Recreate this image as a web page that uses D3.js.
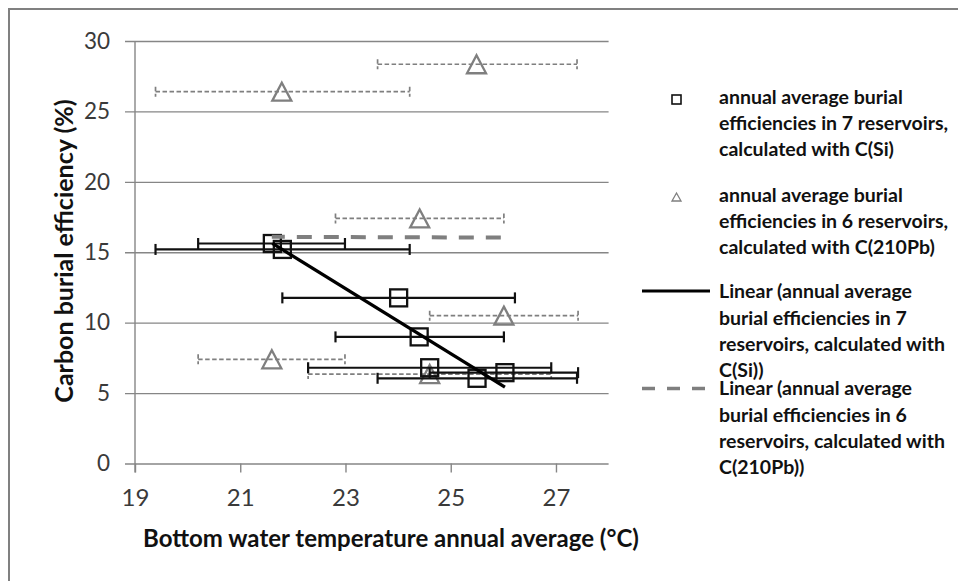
<!DOCTYPE html>
<html>
<head>
<meta charset="utf-8">
<script src="https://cdn.jsdelivr.net/npm/d3@7"></script>
<style>
  body { margin: 0; background: #fff; }
  svg { display: block; }
  text { font-family: Lato, "Open Sans", sans-serif; }
</style>
</head>
<body>
<script>
// C(Si) series, 7 reservoirs
let siTemp = [21.61, 21.80, 24.01, 24.40, 24.60, 25.50, 26.03];
let siEff = [15.62, 15.20, 11.76, 8.99, 6.80, 6.05, 6.45];
let siTempLow = [20.20, 19.39, 21.80, 22.81, 22.29, 23.61, 24.60];
let siTempHigh = [22.99, 24.22, 26.22, 26.01, 26.91, 27.40, 27.42];

// C(210Pb) series, 6 reservoirs
let pbTemp = [21.60, 21.79, 24.41, 24.60, 25.49, 26.01];
let pbEff = [7.40, 26.40, 17.40, 6.35, 28.35, 10.50];
let pbTempLow = [20.20, 19.39, 22.81, 22.29, 23.61, 24.60];
let pbTempHigh = [22.99, 24.22, 26.01, 26.91, 27.40, 27.42];

let xTicks = [19, 21, 23, 25, 27];
let yTicks = [0, 5, 10, 15, 20, 25, 30];

let legendLabels = [
    ['annual average burial', 'efficiencies in 7 reservoirs,', 'calculated with C(Si)'],
    ['annual average burial', 'efficiencies in 6 reservoirs,', 'calculated with C(210Pb)'],
    ['Linear (annual average', 'burial efficiencies in 7', 'reservoirs, calculated with', 'C(Si))'],
    ['Linear (annual average', 'burial efficiencies in 6', 'reservoirs, calculated with', 'C(210Pb))']
];

let width = 958, height = 581;
let plot = { left: 135, right: 608.6, top: 41, bottom: 463.5 };
let grey = '#7f7f7f';

let svg = d3.select('body').append('svg')
    .attr('width', width)
    .attr('height', height);

// outer frame (cut at right and bottom edges)
svg.append('rect')
    .attr('x', 9).attr('y', 9)
    .attr('width', 980).attr('height', 600)
    .attr('fill', 'none')
    .attr('stroke', '#808080')
    .attr('stroke-width', 2);

let xScale = d3.scaleLinear().domain([19, 28]).range([plot.left, plot.right]);
let yScale = d3.scaleLinear().domain([0, 30]).range([plot.bottom, plot.top]);

// gridlines + y labels
let yAxisGroup = svg.append('g')
    .attr('transform', `translate(${plot.left - 10}, 0)`)
    .call(d3.axisLeft(yScale).tickValues(yTicks).tickSize(-(plot.right - plot.left + 10)).tickPadding(15));
yAxisGroup.select('.domain').remove();
yAxisGroup.selectAll('line').attr('stroke', '#868686').attr('stroke-width', 1.4);
yAxisGroup.selectAll('text')
    .attr('font-size', 22.5)
    .attr('fill', '#3a3a3a')
    .style('font-family', 'Lato, sans-serif');

// x axis ticks + labels
let xAxisGroup = svg.append('g')
    .attr('transform', `translate(0, ${plot.bottom})`)
    .call(d3.axisBottom(xScale).tickValues(xTicks).tickSize(9).tickPadding(16).tickFormat(d3.format('d')));
xAxisGroup.select('.domain').remove();
xAxisGroup.selectAll('line').attr('stroke', '#868686').attr('stroke-width', 1.4);
xAxisGroup.selectAll('text')
    .attr('font-size', 24)
    .attr('fill', '#3a3a3a')
    .style('font-family', 'Lato, sans-serif');

// y axis line
svg.append('line')
    .attr('x1', xScale(19)).attr('x2', xScale(19))
    .attr('y1', yScale(30)).attr('y2', yScale(0) + 9)
    .attr('stroke', '#868686').attr('stroke-width', 1.4);

// axis titles
svg.append('text')
    .attr('x', 391).attr('y', 547)
    .attr('text-anchor', 'middle')
    .attr('font-size', 24)
    .attr('font-weight', 'bold')
    .attr('fill', '#111')
    .text('Bottom water temperature annual average (°C)');

svg.append('text')
    .attr('transform', 'translate(73, 251) rotate(-90)')
    .attr('text-anchor', 'middle')
    .attr('font-size', 25)
    .attr('font-weight', 'bold')
    .attr('fill', '#111')
    .text('Carbon burial efficiency (%)');

let siData = siTemp.map((t, i) => ({ x: t, y: siEff[i], lo: siTempLow[i], hi: siTempHigh[i] }));
let pbData = pbTemp.map((t, i) => ({ x: t, y: pbEff[i], lo: pbTempLow[i], hi: pbTempHigh[i] }));

// least squares fit, drawn across the series x range
let fit = data => {
    let mx = d3.mean(data, d => d.x), my = d3.mean(data, d => d.y);
    let sxy = d3.sum(data, d => (d.x - mx) * (d.y - my));
    let sxx = d3.sum(data, d => (d.x - mx) * (d.x - mx));
    let slope = sxy / sxx;
    let ext = d3.extent(data, d => d.x);
    return ext.map(x => [x, my + slope * (x - mx)]);
};
let line = d3.line().x(d => xScale(d[0])).y(d => yScale(d[1]));

let triPath = (w, h) => `M0,${-h / 2}L${w / 2},${h / 2}L${-w / 2},${h / 2}Z`;

// --- C(210Pb) error bars and markers
let pbG = svg.append('g');
pbG.selectAll('line.bar').data(pbData).enter().append('line')
    .attr('x1', d => xScale(d.lo)).attr('x2', d => xScale(d.hi))
    .attr('y1', d => yScale(d.y)).attr('y2', d => yScale(d.y))
    .attr('stroke', grey).attr('stroke-width', 1.7)
    .attr('stroke-dasharray', '4.5,2.5');
['lo', 'hi'].forEach(k => {
    pbG.selectAll('line.cap-' + k).data(pbData).enter().append('line')
        .attr('x1', d => xScale(d[k])).attr('x2', d => xScale(d[k]))
        .attr('y1', d => yScale(d.y) - 5).attr('y2', d => yScale(d.y) + 5)
        .attr('stroke', grey).attr('stroke-width', 1.7)
        .attr('stroke-dasharray', '4.5,2.5');
});

// --- C(Si) error bars
let siG = svg.append('g');
siG.selectAll('line.bar').data(siData).enter().append('line')
    .attr('x1', d => xScale(d.lo)).attr('x2', d => xScale(d.hi))
    .attr('y1', d => yScale(d.y)).attr('y2', d => yScale(d.y))
    .attr('stroke', '#111').attr('stroke-width', 2.2);
['lo', 'hi'].forEach(k => {
    siG.selectAll('line.cap-' + k).data(siData).enter().append('line')
        .attr('x1', d => xScale(d[k])).attr('x2', d => xScale(d[k]))
        .attr('y1', d => yScale(d.y) - 5.5).attr('y2', d => yScale(d.y) + 5.5)
        .attr('stroke', '#111').attr('stroke-width', 2.2);
});

// triangle markers
pbG.selectAll('path.tri').data(pbData).enter().append('path')
    .attr('transform', d => `translate(${xScale(d.x)},${yScale(d.y)})`)
    .attr('d', triPath(19, 18))
    .attr('fill', 'none')
    .attr('stroke', grey).attr('stroke-width', 2.3);

// square markers
siG.selectAll('rect').data(siData).enter().append('rect')
    .attr('x', d => xScale(d.x) - 8.5).attr('y', d => yScale(d.y) - 8.5)
    .attr('width', 17).attr('height', 17)
    .attr('fill', 'none')
    .attr('stroke', '#111').attr('stroke-width', 2.3);

// trend lines
svg.append('path')
    .attr('d', line(fit(pbData)))
    .attr('fill', 'none')
    .attr('stroke', grey).attr('stroke-width', 4)
    .attr('stroke-dasharray', '15,12')
    .attr('stroke-dashoffset', 2);
svg.append('path')
    .attr('d', line(fit(siData)))
    .attr('fill', 'none')
    .attr('stroke', '#000').attr('stroke-width', 3.3);

// legend
let legendTop = [96.7, 195, 291.5, 388.5];
let lineStep = 26.3;
let legend = svg.append('g');

legend.append('rect')
    .attr('x', 672).attr('y', 95).attr('width', 9).attr('height', 9)
    .attr('fill', 'none').attr('stroke', '#111').attr('stroke-width', 1.6);
legend.append('path')
    .attr('transform', 'translate(676.5,197)')
    .attr('d', triPath(9, 8))
    .attr('fill', 'none').attr('stroke', grey).attr('stroke-width', 1.3);
legend.append('line')
    .attr('x1', 642).attr('x2', 710).attr('y1', 291).attr('y2', 291)
    .attr('stroke', '#000').attr('stroke-width', 3);
legend.append('line')
    .attr('x1', 642).attr('x2', 710).attr('y1', 388.5).attr('y2', 388.5)
    .attr('stroke', grey).attr('stroke-width', 3.5)
    .attr('stroke-dasharray', '13,12');

legendLabels.forEach((lines, i) => {
    legend.selectAll(null).data(lines).enter().append('text')
        .attr('x', 719)
        .attr('y', (d, j) => legendTop[i] + j * lineStep)
        .attr('dy', '0.35em')
        .attr('font-size', 19.5)
        .attr('font-weight', 'bold')
        .attr('fill', '#111')
        .text(d => d);
});
</script>
</body>
</html>
